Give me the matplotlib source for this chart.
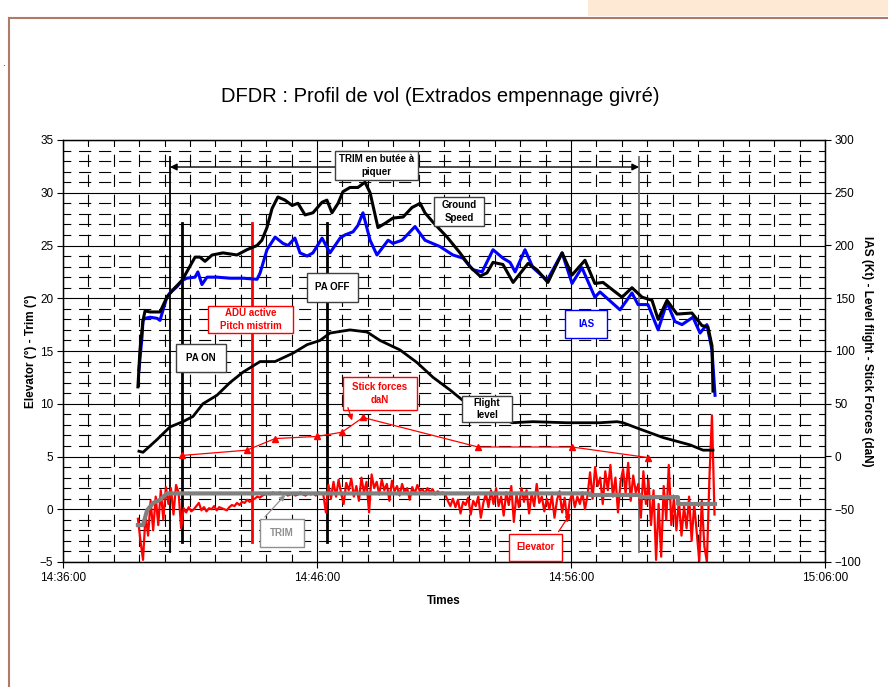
import numpy as np
import matplotlib
matplotlib.use("Agg")
import matplotlib.pyplot as plt
from matplotlib.patches import Rectangle

W, H = 888, 687
plt.rcParams["font.family"] = ["Liberation Sans", "DejaVu Sans"]

# temps en minutes depuis 14:36:00
XTICKS = [0, 10, 20, 30]
XLABELS = ["14:36:00", "14:46:00", "14:56:00", "15:06:00"]

# Ground Speed (kt, axe droit)
gs_t = [2.95, 3.03, 3.15, 3.23, 3.43, 3.82, 4.09, 4.33, 4.69, 4.92, 5.2, 5.39, 5.59, 5.87,
        6.3, 6.85, 7.24, 7.64, 7.83, 8.03, 8.23, 8.46, 8.74, 9.02, 9.25, 9.53, 9.84, 10.2,
        10.39, 10.59, 10.83, 11.02, 11.3, 11.61, 11.89, 12.09, 12.4, 12.68, 12.99, 13.39,
        13.74, 14.06, 14.25, 14.57, 15.12, 15.63, 16.02, 16.42, 16.69, 16.93, 17.32, 17.72,
        18.31, 18.66, 19.09, 19.65, 20.04, 20.55, 20.94, 21.26, 22.01, 22.4, 22.8, 23.19,
        23.43, 23.78, 24.17, 24.76, 25.16, 25.39, 25.55, 25.59]
gs_v = [66, 101, 129, 138, 137, 137, 151, 158, 167, 177, 189, 189, 185, 191,
        193, 191, 196, 200, 205, 217, 235, 246, 243, 238, 240, 229, 231, 241,
        243, 231, 240, 251, 255, 255, 260, 250, 217, 221, 226, 227,
        236, 240, 231, 222, 208, 193, 180, 171, 174, 184, 182, 165,
        183, 177, 165, 193, 172, 186, 164, 165, 151, 160, 151, 148,
        130, 148, 135, 136, 124, 123, 105, 62]

# IAS (kt, axe droit)
ias_t = [2.99, 3.11, 3.15, 3.23, 3.43, 3.7, 3.82, 3.94, 4.09, 4.21, 4.49, 4.69, 4.88, 5.2,
         5.31, 5.47, 5.67, 6.06, 6.57, 7.09, 7.64, 7.76, 8.03, 8.35, 8.66, 8.86, 9.13, 9.33,
         9.61, 9.84, 10.2, 10.51, 10.91, 11.1, 11.42, 11.61, 11.81, 12.09, 12.36, 12.8, 12.99,
         13.35, 13.86, 14.25, 14.84, 15.35, 15.75, 16.14, 16.5, 16.93, 17.32, 17.6, 17.8,
         18.19, 18.5, 19.06, 19.65, 20.04, 20.43, 20.94, 21.14, 21.93, 22.4, 22.64, 23.03,
         23.43, 23.78, 24.09, 24.37, 24.8, 25.08, 25.35, 25.55, 25.67]
ias_v = [82, 113, 129, 131, 132, 131, 129, 139, 151, 155, 161, 167, 169, 170,
         175, 163, 170, 170, 169, 169, 168, 174, 196, 208, 202, 200, 207, 193,
         190, 193, 207, 193, 207, 210, 213, 219, 231, 205, 191, 205, 202,
         205, 218, 205, 199, 191, 188, 177, 175, 196, 188, 184, 175,
         196, 179, 167, 193, 164, 179, 151, 156, 139, 155, 144, 144,
         120, 146, 128, 125, 132, 117, 125, 101, 58]

# Flight level (axe droit)
fl_t = [2.99, 3.15, 3.7, 4.21, 4.72, 5.12, 5.51, 6.06, 6.57, 7.09, 7.76, 8.35, 9.06, 9.61,
        10.12, 10.51, 11.3, 11.97, 12.48, 13.27, 13.94, 14.57, 15.24, 15.75, 17.68, 18.5,
        19.84, 21.14, 21.81, 22.05, 22.6, 23.62, 24.69, 25.2, 25.59]
fl_v = [5, 4, 16, 28, 33, 38, 50, 58, 70, 80, 90, 90, 98, 106,
        110, 117, 120, 118, 110, 101, 89, 75, 63, 53, 32, 33,
        32, 32, 33, 32, 27, 18, 11, 6, 6]

# Stick forces (daN, axe droit)
stick_t = [4.69, 7.24, 8.35, 10.0, 10.98, 11.81, 16.34, 20.04, 23.03]
stick_v = [1, 6, 17, 19, 23, 37, 9, 9, -1]

# TRIM (°, axe gauche)
trim_t = [2.95, 3.15, 3.31, 3.55, 3.82, 4.09, 20.75, 20.75, 22.72, 22.72, 24.21, 24.21, 25.67]
trim_v = [-1.5, -1.5, -0.1, 0.6, 0.9, 1.5, 1.5, 1.35, 1.35, 1.15, 1.15, 0.5, 0.5]

# Elevator (°, axe gauche), un point toutes les 0.1 min depuis 2.95
elev_t0, elev_dt = 2.95, 0.1
elev_v = [-0.9, -3.0, -4.8, -0.5, -2.5, 0.8, -2.0, 1.2, -1.5, 1.8,
          -1.0, 2.1, 0.5, 2.0, -0.5, 2.3, 1.6, -1.8, 0.1, -0.3,
          0.2, -0.2, 0.0, 0.3, 0.6, -0.1, 0.2, -0.2, 0.1, 0.0,
          0.3, -0.1, 0.2, 0.1, 0.0, -0.1, 0.2, 0.4, 0.3, 0.6,
          0.4, 0.7, 0.6, 0.9, 0.7, 0.9, 1.0, 1.2, 1.1, 1.3,
          1.4, 1.5, 1.4, 1.6, 1.5, 1.5, 1.6, 1.4, 1.5, 1.3,
          1.4, 1.5, 1.3, 1.4, 1.6, 1.4, 1.3, 1.5, 1.4, 1.5,
          1.3, 1.6, 1.5, 1.4, -0.3, 2.3, 1.0, 2.6, 1.2, 2.8,
          1.5, 0.5, 2.5, 1.8, 2.9, 1.2, 2.2, 0.8, 3.0, 1.6,
          2.6, -0.3, 3.3, 2.0, 2.6, 1.4, 2.8, 1.8, 2.4, 0.8,
          2.7, 1.7, 2.2, 1.3, 2.4, 1.6, 2.0, 0.9, 2.1, 1.5,
          2.3, 1.7, 1.9, 1.5, 2.0, 1.6, 1.9, 1.4, 1.7, 1.5,
          1.6, 1.4, 0.8, 0.3, 1.0, 0.2, 0.9, -0.4, 0.7, 0.4,
          1.1, -0.5, 0.8, 0.3, 1.2, -0.8, 0.6, 1.5, 0.2, 1.8,
          0.5, 2.0, 0.3, 1.2, -0.6, 1.6, 0.4, 2.2, -1.2, 1.4,
          0.2, 2.0, 0.7, 1.8, -0.4, 1.5, 0.3, 2.4, 0.6, 1.2,
          -0.2, 1.0, 0.0, 1.3, -0.8, 0.9, 1.7, -0.3, 1.1, -1.1,
          0.8, 1.5, 0.2, 1.2, 0.5, 1.6, 0.0, 1.3, 3.5, 1.0,
          4.0, 2.2, 3.0, 0.5, 3.6, 1.8, 4.2, 1.2, 3.0, -0.3,
          2.6, 3.8, 1.5, 4.4, 0.8, 3.2, 1.6, 2.4, -0.8, 3.6,
          0.5, 2.8, -1.5, 1.8, -4.8, 0.5, -4.5, 2.2, -1.0, 4.2,
          -1.5, 1.0, -2.0, 0.8, -2.5, 0.3, -1.8, 1.2, -3.0, 0.5,
          -2.2, -4.9, 0.8, -3.5, -5.0, 3.0, 8.9, -0.5]
elev_t = elev_t0 + elev_dt * np.arange(len(elev_v))

# événements (min depuis 14:36)
T_BUTEE = (4.21, 22.68)
T_PA_ON, T_ADU, T_PA_OFF = 4.69, 7.43, 10.38


def fx(x):
    return x / W


def fy(y):
    return 1 - y / H


fig = plt.figure(figsize=(W / 100, H / 100), dpi=100)

# cadre de la page
fig.add_artist(Rectangle((fx(588), fy(16)), fx(W) - fx(588), 16 / H, transform=fig.transFigure,
                         facecolor="#fde9d4", edgecolor="none"))
fig.add_artist(plt.Line2D([fx(8.5), 1], [fy(18), fy(18)], color="#b07a68", lw=1.5))
fig.add_artist(plt.Line2D([fx(8.5), fx(8.5)], [fy(18), 0], color="#b07a68", lw=1.5))
fig.text(fx(3), fy(68), ".", fontsize=7, ha="center", va="bottom")

ax = fig.add_axes([fx(63), fy(562), (825 - 63) / W, (562 - 140) / H])
ax2 = ax.twinx()

ax.set_xlim(0, 30)
ax.set_ylim(-5, 35)
ax2.set_ylim(-100, 300)
ax.set_xticks(XTICKS)
ax.set_xticklabels(XLABELS)
ax.set_xticks(np.arange(0, 31, 1), minor=True)
ax.set_yticks(np.arange(-5, 36, 5))
ax.set_yticks(np.arange(-5, 36, 1), minor=True)
ax2.set_yticks(np.arange(-100, 301, 50))
ax.grid(which="major", color="black", lw=0.8)
ax.grid(which="minor", color="black", lw=0.8, linestyle=(4, (11, 7)))
ax.tick_params(which="minor", length=0)
for a in (ax, ax2):
    a.tick_params(which="major", direction="out", length=4, width=0.8, labelsize=8.5, pad=3)
    for s in a.spines.values():
        s.set_color("black")
        s.set_linewidth(0.9)

ax.set_xlabel("Times", fontsize=8.5, fontweight="bold", labelpad=8)
ax.set_ylabel("Elevator (°) - Trim (°)", fontsize=8.5, fontweight="bold", labelpad=2)
ax2.set_ylabel("IAS (Kt) - Level flight - Stick Forces (daN)", fontsize=8.5,
               fontweight="bold", rotation=270, labelpad=8)

fig.text(fx(440), fy(97), "DFDR : Profil de vol (Extrados empennage givré)",
         fontsize=14.5, ha="center", va="center")

# lignes d'événements
ax.plot([T_BUTEE[0]] * 2, [33.4, -4.05], color="black", lw=1.3)
ax.plot([T_BUTEE[1]] * 2, [33.4, -4.05], color="#707070", lw=1.3)
ax.annotate("", xy=(T_BUTEE[0], 32.44), xytext=(T_BUTEE[1], 32.44),
            arrowprops=dict(arrowstyle="<|-|>", color="black", lw=1, mutation_scale=10,
                            shrinkA=0, shrinkB=0))
ax.plot([T_PA_ON] * 2, [27.1, -3.1], color="black", lw=2)
ax.plot([T_ADU] * 2, [27.1, -3.1], color="red", lw=2)
ax.plot([T_PA_OFF] * 2, [27.1, -3.1], color="black", lw=2)

# courbes
ax.plot(elev_t, elev_v, color="red", lw=1.6)
ax.plot(trim_t, trim_v, color="#808080", lw=3)
ax2.plot(fl_t, fl_v, color="black", lw=2)
ax2.plot(stick_t, stick_v, color="red", lw=0.9, marker="^", markersize=5)
ax2.plot(ias_t, ias_v, color="#0000ff", lw=2.2)
ax2.plot(gs_t, gs_v, color="black", lw=2.2)

# étiquettes encadrées (x0, y0, x1, y1 en pixels)
boxes = [
    ("TRIM en butée à\npiquer", (335, 151, 418, 180), "black", "#404040"),
    ("Ground\nSpeed", (434, 197, 484, 226), "black", "#404040"),
    ("PA OFF", (307, 273, 358, 302), "black", "#404040"),
    ("ADU active\nPitch mistrim", (208, 306, 293, 333), "red", "red"),
    ("PA ON", (176, 344, 226, 372), "black", "#404040"),
    ("IAS", (565, 310, 607, 338), "#0000ff", "#0000ff"),
    ("Stick forces\ndaN", (343, 377, 417, 410), "red", "red"),
    ("Flight\nlevel", (462, 396, 512, 422), "black", "#404040"),
    ("TRIM", (260, 519, 304, 547), "#909090", "#909090"),
    ("Elevator", (509, 534, 562, 561), "red", "red"),
]
for txt, (x0, y0, x1, y1), tc, ec in boxes:
    fig.add_artist(Rectangle((fx(x0), fy(y1)), (x1 - x0) / W, (y1 - y0) / H,
                             transform=fig.transFigure, facecolor="white", edgecolor=ec,
                             lw=1, zorder=4))
    fig.text(fx((x0 + x1) / 2), fy((y0 + y1) / 2), txt, color=tc, fontsize=7,
             fontweight="bold", ha="center", va="center", linespacing=1.3, zorder=5)

arrows = [((347, 405), (353, 423), "red"),
          ((263, 519), (287, 493), "#909090"),
          ((557, 534), (572, 511), "red")]
for (xa, ya), (xb, yb), c in arrows:
    fig.add_artist(matplotlib.patches.FancyArrowPatch(
        (fx(xa), fy(ya)), (fx(xb), fy(yb)), transform=fig.transFigure,
        arrowstyle="-|>", mutation_scale=8, color=c, lw=0.9, zorder=5))

fig.savefig("out.png", dpi=100)
